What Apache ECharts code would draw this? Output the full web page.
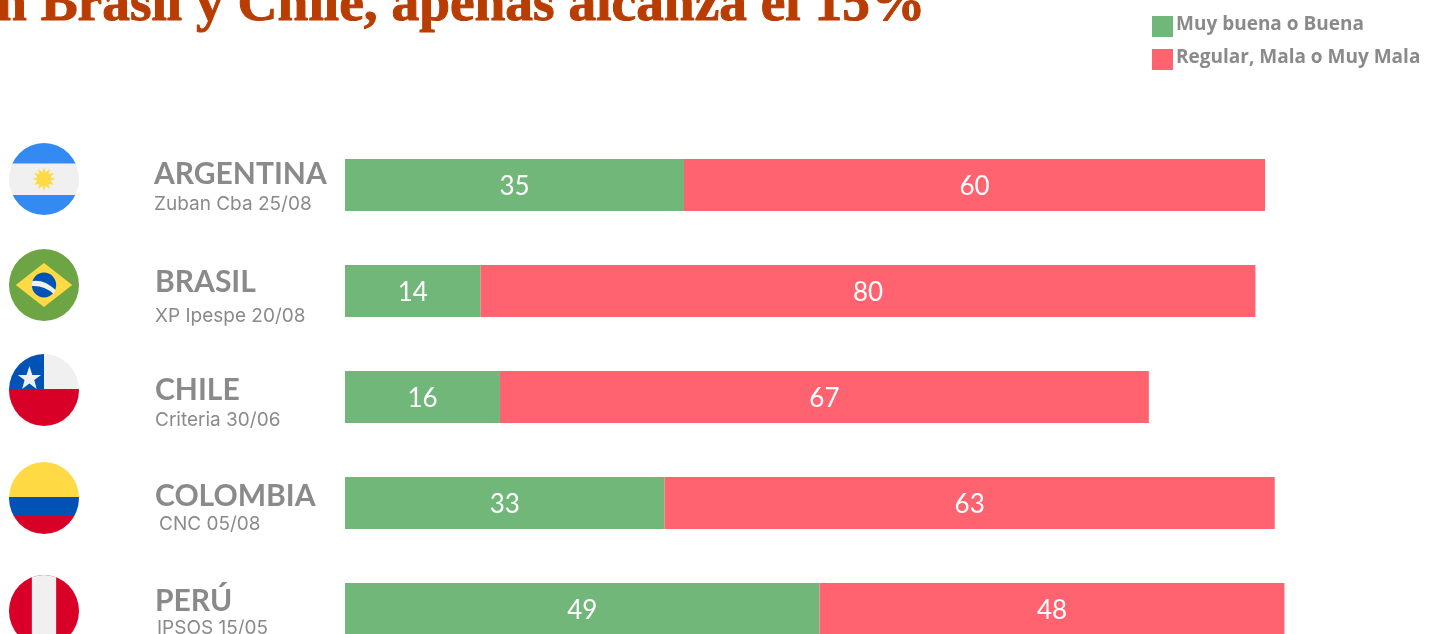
<!DOCTYPE html>
<html>
<head>
<meta charset="utf-8">
<style>html,body{margin:0;padding:0;background:#fff;overflow:hidden;height:634px}#c{width:1437px;height:680px}</style>
<script src="https://cdn.jsdelivr.net/npm/echarts@6/dist/echarts.min.js"></script>
</head>
<body>
<div id="c"></div>
<script>
const countries = ['ARGENTINA','BRASIL','CHILE','COLOMBIA','PERÚ'];
const pollsters = ['Zuban Cba 25/08','XP Ipespe 20/08','Criteria 30/06','CNC 05/08','IPSOS 15/05'];
const positive = [35,14,16,33,49];
const negative = [60,80,67,63,48];
const seriesNames = ['Muy buena o Buena','Regular, Mala o Muy Mala'];
const titleText = 'n Brasil y Chile, apenas alcanza el 15%';

const GREEN='#71B77A', RED='#FF6370', GREY='#8A8A8A';

const sunRays = Array.from({length:12},(_, i)=>`<polygon points="36,24 38.6,32 33.4,32" fill="#FFDA44" transform="rotate(${i*30} 36 36)"/>`).join('');
const flagBodies = [
 `<rect width="72" height="72" fill="#F0F0F0"/><rect width="72" height="20.5" fill="#338AF3"/><rect y="52" width="72" height="20" fill="#338AF3"/>${sunRays}<circle cx="36" cy="36" r="6.5" fill="#FFDA44"/>`,
 `<rect width="72" height="72" fill="#6DA544"/><polygon points="36,14 65,36 36,58 7,36" fill="#FFDA44"/><circle cx="36" cy="36" r="12.5" fill="#0052B4"/><path d="M24 32 Q36 30 48 41 L46 45 Q36 36 23 37 Z" fill="#F0F0F0"/>`,
 `<rect width="72" height="72" fill="#F0F0F0"/><rect y="35" width="72" height="37" fill="#D80027"/><rect width="36" height="35" fill="#0052B4"/><polygon points="21,13 24,22 33,22 26,27 28.5,36 21,30.5 13.5,36 16,27 9,22 18,22" fill="#F0F0F0" transform="translate(0,-1)"/>`,
 `<rect width="72" height="36" fill="#FFDA44"/><rect y="35" width="72" height="19" fill="#0052B4"/><rect y="53" width="72" height="19" fill="#D80027"/>`,
 `<rect width="72" height="72" fill="#D80027"/><rect x="23.5" width="25" height="72" fill="#F0F0F0"/>`
];
const flagUri = b => 'data:image/svg+xml;charset=utf-8,'+encodeURIComponent(
 `<svg xmlns="http://www.w3.org/2000/svg" width="72" height="72" viewBox="0 0 72 72"><defs><clipPath id="c"><circle cx="36" cy="36" r="36"/></clipPath></defs><g clip-path="url(#c)">${b}</g></svg>`);

const flagCentreY = [179,285,390,498,611];
const nameX = [154,155,155,155,155];
const nameBaseY = [174,282,390,496,601];
const subX = [154,155,155,159,157];
const subBaseY = [204,316,420,524,628];

const graphics = [];
countries.forEach((c,i)=>{
  graphics.push({type:'image',silent:true,style:{image:flagUri(flagBodies[i]),x:9,y:flagCentreY[i]-36,width:70,height:72}});
  graphics.push({type:'text',silent:true,style:{text:c,x:nameX[i],y:nameBaseY[i],verticalAlign:'middle',font:'700 30px Lato, sans-serif',fill:GREY}});
  graphics.push({type:'text',silent:true,style:{text:pollsters[i],x:subX[i],y:subBaseY[i],verticalAlign:'middle',font:'400 19px Inter, sans-serif',fill:GREY}});
});

const labelStyle = {show:true,position:'inside',offset:[0,2],color:'#fff',fontFamily:'Lato',fontSize:26,fontWeight:400};
const chart = echarts.init(document.getElementById('c'));
chart.setOption({
  animation:false,
  backgroundColor:'#fff',
  title:{text:titleText,left:-4,top:-22,padding:0,textStyle:{fontFamily:'Liberation Serif',fontWeight:'bold',fontSize:55.4,color:'#B93C00',textBorderColor:'#B93C00',textBorderWidth:1}},
  legend:{orient:'vertical',left:1152,top:15,padding:0,itemWidth:21,itemHeight:21,itemGap:11,itemStyle:{borderWidth:0},icon:'rect',selectedMode:false,
    formatter:'{t|{name}}',
    textStyle:{color:GREY,rich:{t:{color:GREY,fontFamily:'Open Sans',fontWeight:700,fontSize:19,padding:[0,0,4,-2]}}}},
  grid:{left:345,top:132,width:968.5,height:530},
  xAxis:{type:'value',min:0,max:100,show:false},
  yAxis:{type:'category',data:countries,inverse:true,show:false},
  graphic:graphics,
  series:[
    {name:seriesNames[0],type:'bar',stack:'t',barWidth:52,data:positive,itemStyle:{color:GREEN},label:labelStyle},
    {name:seriesNames[1],type:'bar',stack:'t',barWidth:52,data:negative,itemStyle:{color:RED},label:labelStyle}
  ]
});
</script>
</body>
</html>
